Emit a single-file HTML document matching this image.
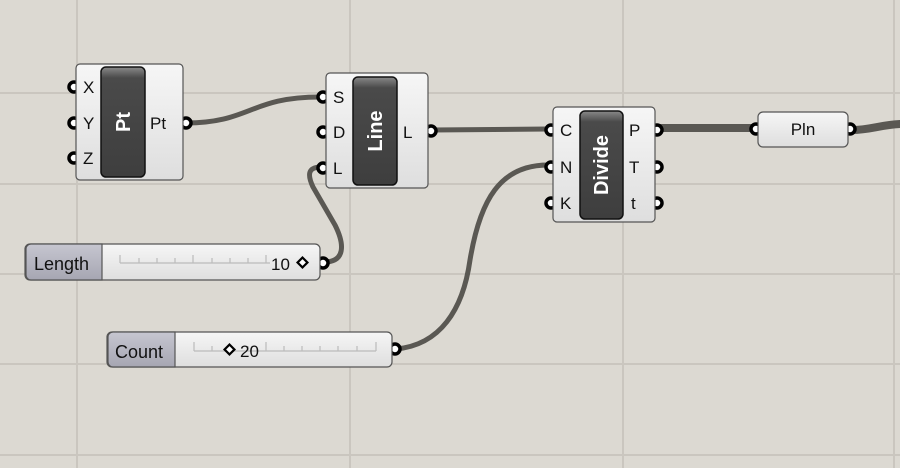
<!DOCTYPE html>
<html><head><meta charset="utf-8"><style>
html,body{margin:0;padding:0;background:#dcd9d2;}
svg{display:block;}
text{font-family:"Liberation Sans",sans-serif;}
</style></head><body>
<svg width="900" height="468" viewBox="0 0 900 468" xmlns="http://www.w3.org/2000/svg">
<defs>
<linearGradient id="box" x1="0" y1="0" x2="0" y2="1">
<stop offset="0" stop-color="#f6f6f6"/><stop offset="1" stop-color="#dedede"/></linearGradient>
<linearGradient id="bar" x1="0" y1="0" x2="0" y2="1">
<stop offset="0" stop-color="#8a8a8a"/><stop offset="0.1" stop-color="#4a4a4a"/><stop offset="1" stop-color="#3e3e3e"/></linearGradient>
<linearGradient id="lab" x1="0" y1="0" x2="0" y2="1">
<stop offset="0" stop-color="#c6c6d0"/><stop offset="1" stop-color="#a6a6b2"/></linearGradient>
</defs>
<rect width="900" height="468" fill="#dcd9d2"/>
<g stroke="#cac6bf" stroke-width="2">
<line x1="77" y1="0" x2="77" y2="468"/><line x1="350" y1="0" x2="350" y2="468"/>
<line x1="623" y1="0" x2="623" y2="468"/><line x1="894" y1="0" x2="894" y2="468"/>
<line x1="0" y1="93" x2="900" y2="93"/><line x1="0" y1="184" x2="900" y2="184"/>
<line x1="0" y1="274" x2="900" y2="274"/><line x1="0" y1="364" x2="900" y2="364"/>
<line x1="0" y1="455" x2="900" y2="455"/>
</g>
<g fill="none" stroke="#5a5853" stroke-width="5" stroke-linecap="round">
<path d="M186,123 C250,123 250,97 320,97"/>
<path d="M432,130 L548,129" stroke-width="5"/>
<path d="M658,128 L752,128" stroke-width="8"/>
<path d="M852,130 C870,130 880,125 900,124" stroke-width="8"/>
<path d="M324,262 C345,262 345,245 335,225 L313,187 C305,170 312,167 322,167"/>
<path d="M396,349 C440,345 463,310 470,260 C480,200 500,165 548,165"/>
</g>
<g fill="#fff" stroke="#000" stroke-width="3.5">
<circle cx="74" cy="87" r="5"/><circle cx="74" cy="123" r="5"/><circle cx="74" cy="158" r="5"/>
<circle cx="186" cy="123" r="5"/>
<circle cx="323" cy="97" r="5"/><circle cx="323" cy="132" r="5"/><circle cx="323" cy="168" r="5"/>
<circle cx="431" cy="131" r="5"/>
<circle cx="551" cy="130" r="5"/><circle cx="551" cy="167" r="5"/><circle cx="551" cy="203" r="5"/>
<circle cx="657" cy="130" r="5"/><circle cx="657" cy="167" r="5"/><circle cx="657" cy="203" r="5"/>
<circle cx="756" cy="129" r="5"/><circle cx="850" cy="129" r="5"/>
<circle cx="323" cy="263" r="5"/><circle cx="395" cy="349" r="5"/>
</g>
<g stroke="#555" stroke-width="1.2">
<rect x="76" y="64" width="107" height="116" rx="4" fill="url(#box)"/>
<rect x="326" y="73" width="102" height="115" rx="4" fill="url(#box)"/>
<rect x="553" y="107" width="102" height="115" rx="4" fill="url(#box)"/>
<rect x="758" y="112" width="90" height="35" rx="5" fill="url(#box)"/>
<rect x="25" y="244" width="295" height="36" rx="5" fill="url(#box)"/>
<rect x="107" y="332" width="285" height="35" rx="5" fill="url(#box)"/>
</g>
<g stroke="#111" stroke-width="1.5" fill="url(#bar)">
<rect x="101" y="67" width="44" height="110" rx="5"/>
<rect x="353" y="77" width="44" height="108" rx="5"/>
<rect x="580" y="111" width="43" height="108" rx="5"/>
</g>
<path d="M26,249 a5,5 0 0 1 5,-5 H102 V280 H31 a5,5 0 0 1 -5,-5Z" fill="url(#lab)" stroke="#555" stroke-width="1.2"/>
<path d="M108,337 a5,5 0 0 1 5,-5 H175 V367 H113 a5,5 0 0 1 -5,-5Z" fill="url(#lab)" stroke="#555" stroke-width="1.2"/>
<g stroke="#bbb" stroke-width="1.2">
<line x1="120" y1="263" x2="270" y2="263"/>
<path d="M120,255v8M139,258v5M157,258v5M175,258v5M193,255v8M212,258v5M230,258v5M248,258v5M266,255v8"/>
<line x1="194" y1="351" x2="376" y2="351"/>
<path d="M194,342v9M212,346v5M230,346v5M248,346v5M266,342v9M284,346v5M302,346v5M320,346v5M338,346v5M357,346v5M376,342v9"/>
</g>
<g font-size="17" fill="#111">
<text x="83" y="93">X</text><text x="83" y="129">Y</text><text x="83" y="164">Z</text>
<text x="150" y="129">Pt</text>
<text x="333" y="103">S</text><text x="333" y="138">D</text><text x="333" y="174">L</text>
<text x="403" y="138">L</text>
<text x="560" y="136">C</text><text x="560" y="173">N</text><text x="560" y="209">K</text>
<text x="629" y="136">P</text><text x="629" y="173">T</text><text x="631" y="209">t</text>
<text x="803" y="135" text-anchor="middle">Pln</text>
<text x="34" y="270" font-size="18">Length</text>
<text x="115" y="358" font-size="18">Count</text>
<text x="271" y="270">10</text>
<text x="240" y="357">20</text>
</g>
<g fill="#fff" stroke="#000" stroke-width="2.2">
<rect x="299" y="259" width="7" height="7" transform="rotate(45 302.5 262.5)"/>
<rect x="226" y="346" width="7" height="7" transform="rotate(45 229.5 349.5)"/>
</g>
<g fill="#fff" font-weight="bold" font-size="20" text-anchor="middle">
<text transform="translate(130,122) rotate(-90)">Pt</text>
<text transform="translate(382,131) rotate(-90)">Line</text>
<text transform="translate(608,165) rotate(-90)">Divide</text>
</g>
</svg>
</body></html>
